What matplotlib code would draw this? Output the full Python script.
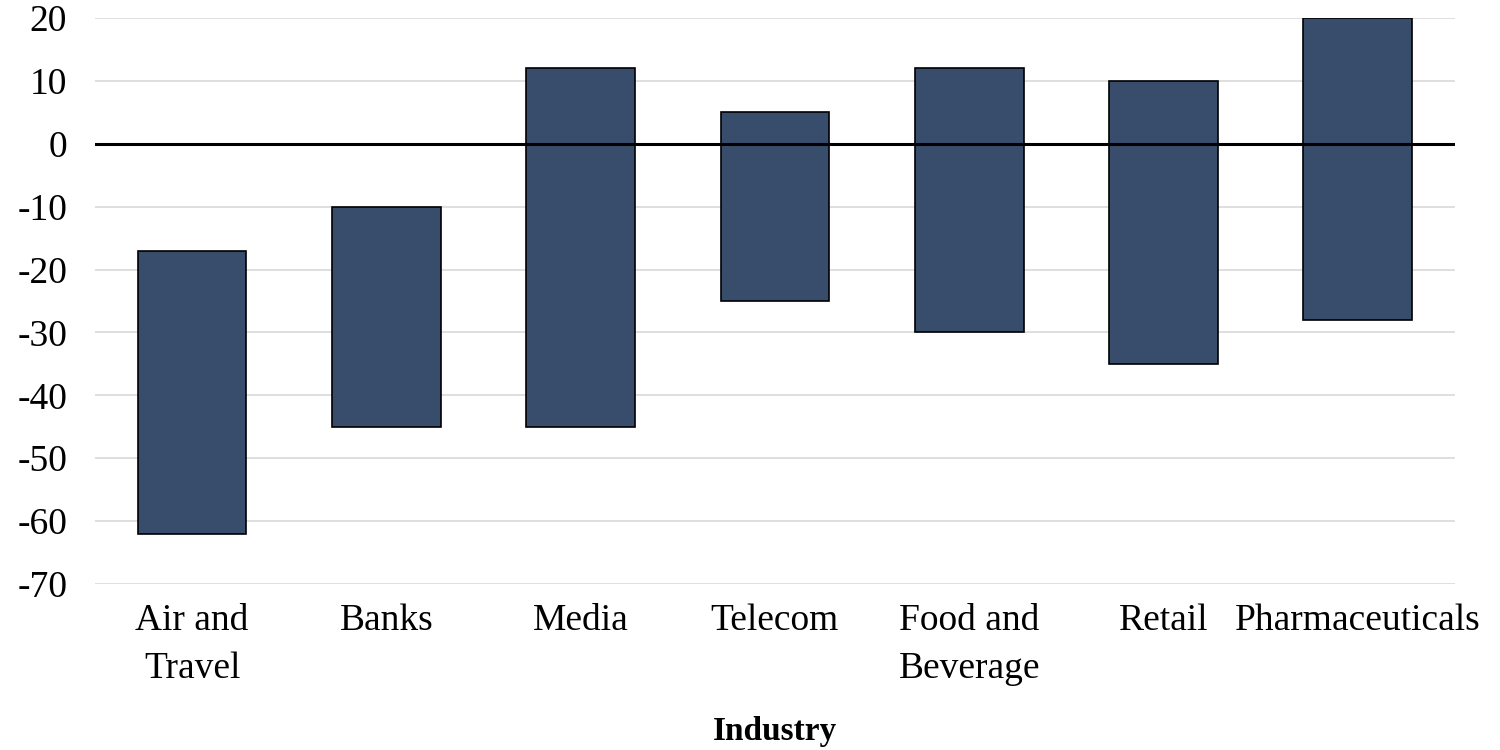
import matplotlib
matplotlib.use("Agg")
import numpy as np
from matplotlib import pyplot as plt

# industries and their low/high range
industries = ["Air and\nTravel", "Banks", "Media", "Telecom",
              "Food and\nBeverage", "Retail", "Pharmaceuticals"]
low = [-62, -45, -45, -25, -30, -35, -28]
high = [-17, -10, 12, 5, 12, 10, 20]

plt.rcParams['font.family'] = ['Liberation Serif', 'DejaVu Serif']
plt.rcParams['axes.unicode_minus'] = False

fig = plt.figure(figsize=(15, 7.5), dpi=100)
ax = fig.add_axes([0.0633, 0.2213, 0.9067, 0.7547])

x = np.arange(len(industries))
heights = np.array(high) - np.array(low)
ax.bar(x, heights, bottom=low, width=0.56, color='#384d6c',
       edgecolor='black', linewidth=1.2, zorder=2)
ax.axhline(0, color='black', linewidth=2.2, zorder=3)

ax.set_xlim(-0.5, len(industries) - 0.5)
ax.set_ylim(-70, 20)
ax.set_yticks(np.arange(-70, 21, 10))
ax.yaxis.grid(True, color='#d9d9d9', linewidth=1.2, zorder=0)
ax.set_xticks(x)
ax.set_xticklabels(industries, linespacing=1.5)
ax.tick_params(axis='both', length=0, labelsize=27)
ax.tick_params(axis='y', pad=20)
ax.tick_params(axis='x', pad=14)
for s in ax.spines.values():
    s.set_visible(False)

ax.set_xlabel('Industry', fontsize=24, fontweight='bold', labelpad=22)

fig.savefig('out.png', dpi=100)
